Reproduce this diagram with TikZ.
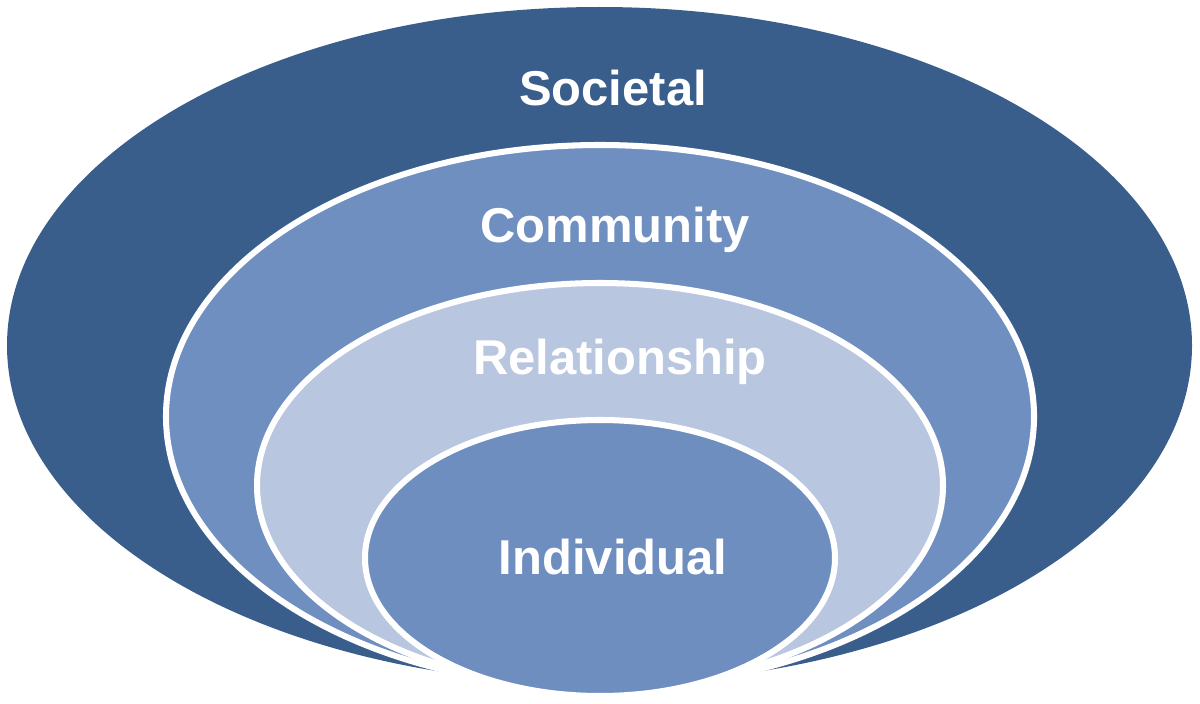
\documentclass[tikz,border=0pt]{standalone}
\usepackage{fontspec}
\setmainfont{Liberation Sans}
\definecolor{societal}{HTML}{3A5E8B}
\definecolor{community}{HTML}{6F8FC0}
\definecolor{relation}{HTML}{B9C6E0}
\definecolor{indiv}{HTML}{6E8EBF}
\begin{document}
\begin{tikzpicture}[x=0.025cm,y=-0.025cm,
  ring/.style={draw=white,line width=4.3pt},
  label/.style={text=white,font=\fontsize{34.8}{40}\selectfont\bfseries,anchor=base,inner sep=0pt}]
\useasboundingbox (0,0) rectangle (1200,703);
\fill[societal] (599.5,345.5) ellipse [x radius=592.5,y radius=338.5];
\filldraw[ring,fill=community] (600,416.5) ellipse [x radius=434,y radius=271.5];
\filldraw[ring,fill=relation] (600,485.5) ellipse [x radius=343,y radius=202.5];
\filldraw[ring,fill=indiv] (600,558) ellipse [x radius=235,y radius=138];
\node[label] (soc) at (613,105) {Societal};
\node[label] (com) at (615,242) {Community};
\node[label] (rel) at (620,374) {Relationship};
\node[label] (ind) at (613,574) {Individual};
\end{tikzpicture}
\end{document}
